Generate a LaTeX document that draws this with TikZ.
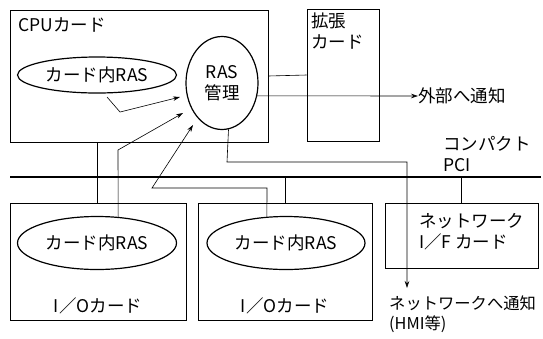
\documentclass[tikz,border=0pt]{standalone}
\usepackage{fontspec}
\setmainfont{Noto Sans CJK JP}
\usetikzlibrary{shapes.geometric,arrows.meta,calc}
\begin{document}
\begin{tikzpicture}[x=1pt,y=-1pt,
  box/.style={draw, line width=0.7pt, rectangle, inner sep=0pt},
  oval/.style={draw, line width=1.2pt, ellipse, inner sep=0pt},
  wire/.style={line width=0.6pt},
  arr/.style={line width=0.6pt, -{Stealth[length=7pt,width=4.5pt]}},
  lbl/.style={inner sep=0pt, font=\fontsize{17.5}{21}\selectfont},
  every node/.style={font=\fontsize{17.5}{21}\selectfont}]
\useasboundingbox (0,0) rectangle (543,338);
% boxes
\node[box, minimum width=258pt, minimum height=132pt] (cpu) at (139,76) {};
\node[box, minimum width=72pt, minimum height=132pt] (exp) at (343,75) {};
\node[box, minimum width=176pt, minimum height=117pt] (io1) at (98,261.5) {};
\node[box, minimum width=174pt, minimum height=117pt] (io2) at (285,261.5) {};
\node[box, minimum width=153pt, minimum height=65pt] (nif) at (461.5,235.5) {};
% labels in boxes
\node[lbl, anchor=west] (cpulbl) at (18,25) {CPUカード};
\node[lbl, anchor=north west, align=left] (explbl) at (311,13) {拡張\\カード};
\node[lbl] (io1lbl) at (98,306) {I／Oカード};
\node[lbl] (io2lbl) at (285,306) {I／Oカード};
\node[lbl, anchor=west, align=left] (niflbl) at (419,232) {ネットワーク\\I／F カード};
% ellipses
\node[oval, minimum width=72pt, minimum height=93pt, align=center] (ras) at (222,83) {RAS\\管理};
\node[oval, minimum width=159pt, minimum height=36pt] (cras) at (97,75) {カード内RAS};
\node[oval, minimum width=159pt, minimum height=53pt] (io1ras) at (97,243) {カード内RAS};
\node[oval, minimum width=158pt, minimum height=53pt] (io2ras) at (286,243) {カード内RAS};
% bus
\coordinate (busL) at (10,177);
\coordinate (busR) at (541,177);
\draw[line width=2.2pt] (busL) -- (busR);
\node[lbl, anchor=west, align=left] (pci) at (443,154) {コンパクト\\PCI};
% outputs
\node[lbl, anchor=west] (out) at (418,96) {外部へ通知};
\node[lbl, anchor=north west, align=left, font=\fontsize{16.3}{20}\selectfont] (net) at (389,296) {ネットワークへ通知\\(HMI等)};
% connectors
\draw[wire] (cpu.south -| io1ras.center) -- (io1.north -| io1ras.center);
\draw[wire] (cpu.east) -- (exp.west);
\draw[wire] (io2.north |- busL) -- (io2.north);
\draw[wire] (nif.north |- busL) -- (nif.north);
\draw[arr] (ras.-20) -- (out.west);
\coordinate (c1a) at (107,97);
\coordinate (c1b) at (120,112);
\coordinate (c1c) at (180,97);
\draw[arr] (c1a) -- (c1b) -- (c1c);
\coordinate (c2a) at (118,150);
\coordinate (c2b) at (183,113);
\draw[arr] (io1ras.51) -- (c2a) -- (c2b);
\coordinate (c3a) at (267,188);
\coordinate (c3b) at (152,188);
\coordinate (c3c) at (193,125);
\draw[arr] (io2ras.126) -- (c3a) -- (c3b) -- (c3c);
\coordinate (c4a) at (227,162);
\coordinate (c4b) at (407,162);
\coordinate (c4c) at (407,288);
\draw[arr] (ras.-82) -- (c4a) -- (c4b) -- (c4c);
\end{tikzpicture}
\end{document}
